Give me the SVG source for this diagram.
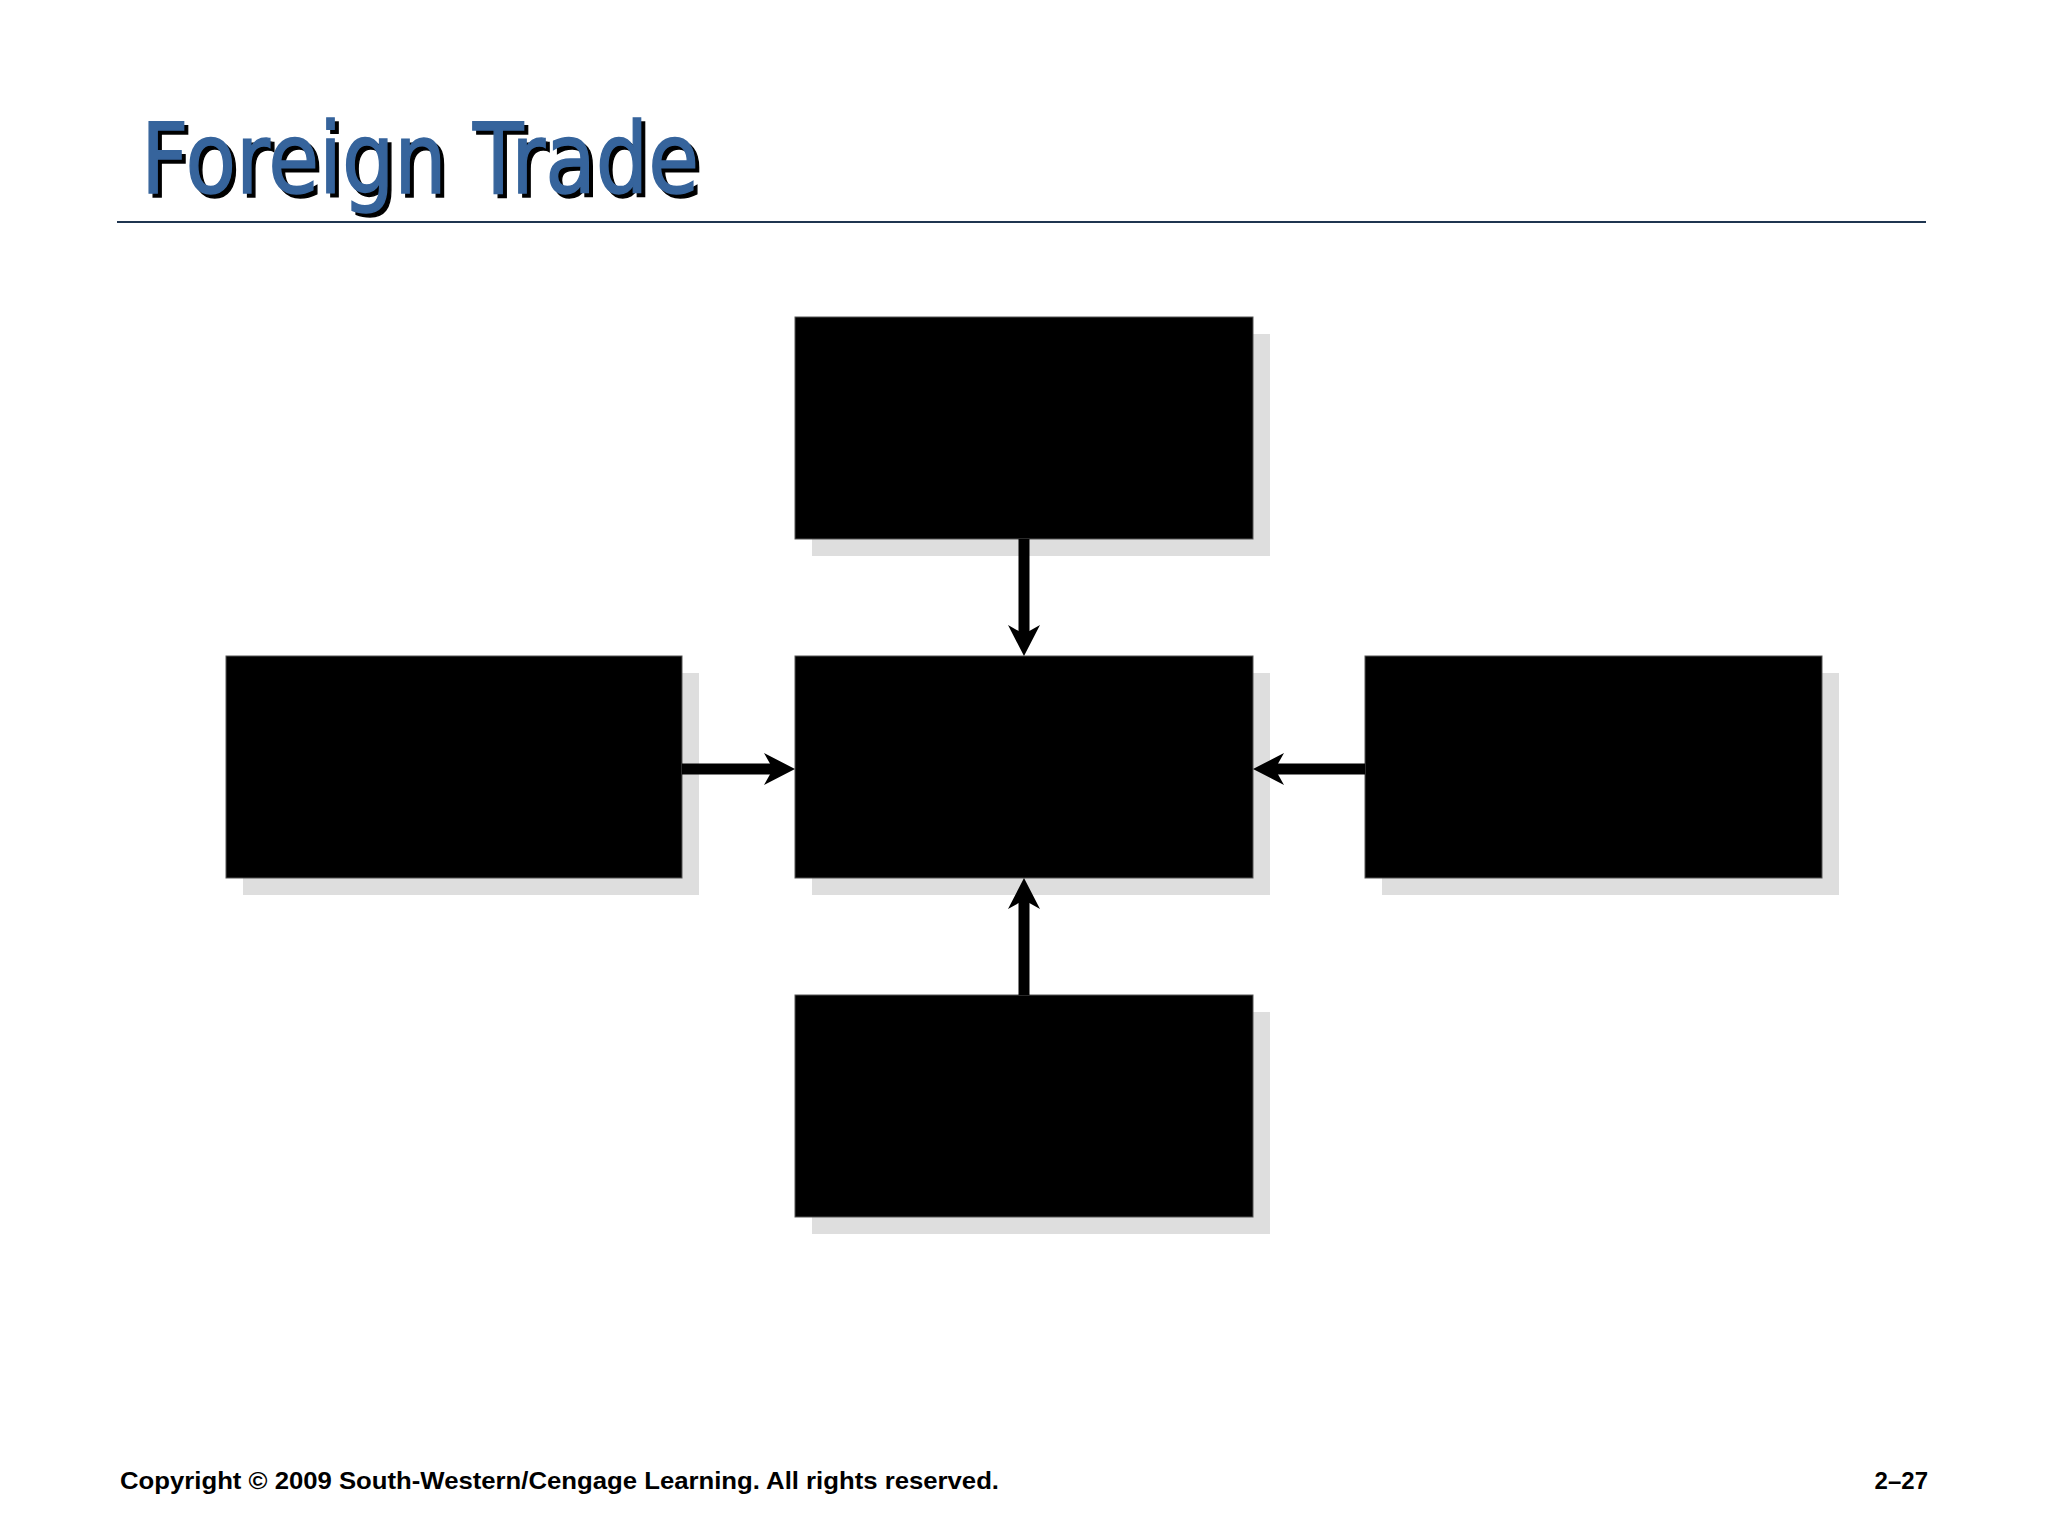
<svg xmlns="http://www.w3.org/2000/svg" width="2048" height="1536" viewBox="0 0 2048 1536">
  <style>
    .shadow { fill: #dedede; }
    .box { fill: #000000; stroke: #555555; stroke-width: 1; }
    .conn { stroke: #000000; stroke-width: 11; fill: none; }
    .title { font-family: "DejaVu Sans", Verdana, sans-serif; font-size: 98px; stroke-width: 1.5; }
    .foot { font-family: "Liberation Sans", Arial, sans-serif; font-size: 24px; font-weight: bold; fill: #000000; }
  </style>
  <defs>
    <marker id="head" viewBox="0 0 32 32" markerUnits="userSpaceOnUse" markerWidth="32" markerHeight="32" refX="9" refY="16" orient="auto">
      <path d="M0,0 L31,16 L0,32 L9,16 Z" fill="#000000"/>
    </marker>
  </defs>
  <rect width="2048" height="1536" fill="#ffffff"/>

  <g id="title">
    <text class="title" x="145" y="197" fill="#000000" stroke="#000000" textLength="558" lengthAdjust="spacingAndGlyphs">Foreign Trade</text>
    <text class="title" x="141" y="193" fill="#36649c" stroke="#36649c" textLength="558" lengthAdjust="spacingAndGlyphs">Foreign Trade</text>
    <line x1="117" y1="222" x2="1926" y2="222" stroke="#1f3550" stroke-width="2"/>
  </g>

  <g id="node-top">
    <rect class="shadow" x="812" y="334" width="458" height="222"/>
    <rect class="box" x="795" y="317" width="458" height="222"/>
  </g>
  <g id="node-left">
    <rect class="shadow" x="243" y="673" width="456" height="222"/>
    <rect class="box" x="226" y="656" width="456" height="222"/>
  </g>
  <g id="node-center">
    <rect class="shadow" x="812" y="673" width="458" height="222"/>
    <rect class="box" x="795" y="656" width="458" height="222"/>
  </g>
  <g id="node-right">
    <rect class="shadow" x="1382" y="673" width="457" height="222"/>
    <rect class="box" x="1365" y="656" width="457" height="222"/>
  </g>
  <g id="node-bottom">
    <rect class="shadow" x="812" y="1012" width="458" height="222"/>
    <rect class="box" x="795" y="995" width="458" height="222"/>
  </g>

  <g id="connectors">
    <line class="conn" x1="1024" y1="539" x2="1024" y2="634" marker-end="url(#head)"/>
    <line class="conn" x1="682" y1="769" x2="773" y2="769" marker-end="url(#head)"/>
    <line class="conn" x1="1365" y1="769" x2="1275" y2="769" marker-end="url(#head)"/>
    <line class="conn" x1="1024" y1="995" x2="1024" y2="900" marker-end="url(#head)"/>
  </g>

  <g id="footer">
    <text class="foot" x="120" y="1489" textLength="879" lengthAdjust="spacingAndGlyphs">Copyright © 2009 South-Western/Cengage Learning. All rights reserved.</text>
    <text class="foot" x="1928" y="1489" text-anchor="end">2–27</text>
  </g>
</svg>
